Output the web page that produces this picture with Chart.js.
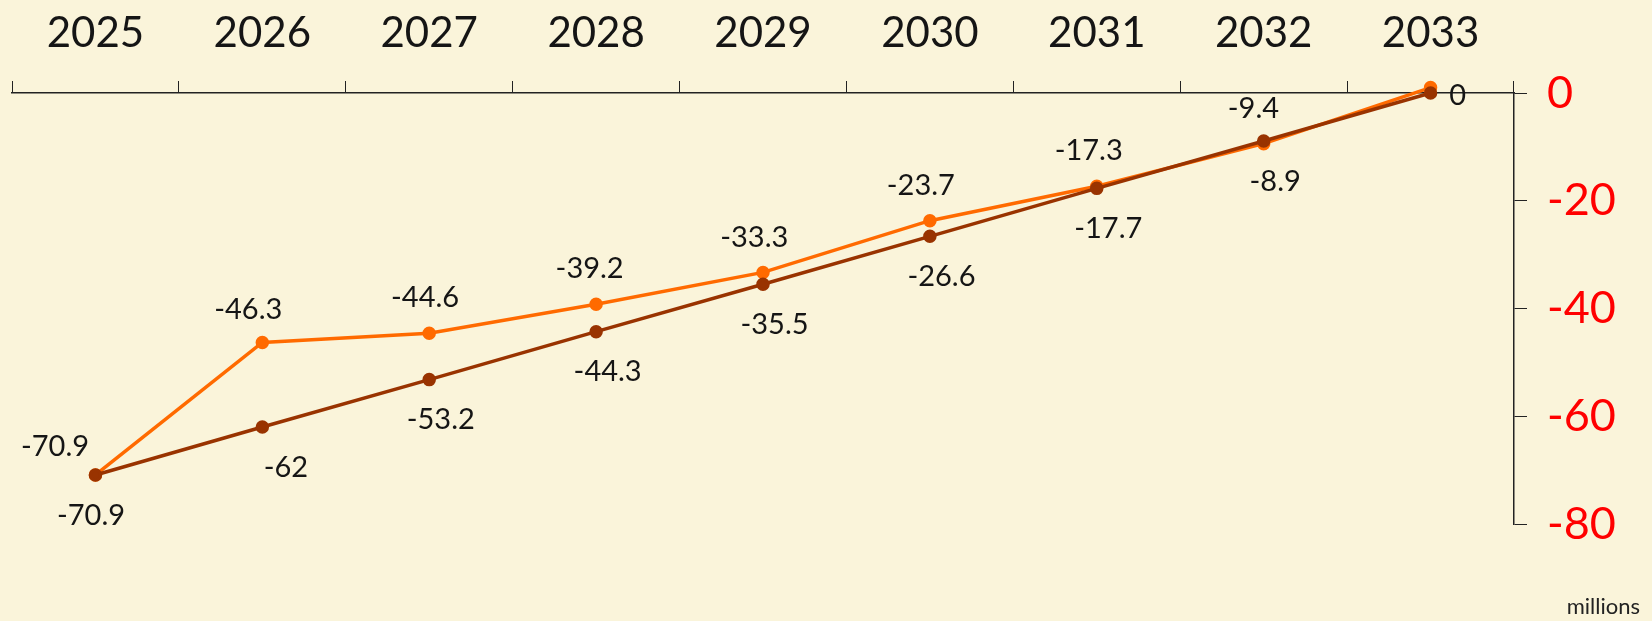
<!DOCTYPE html>
<html>
<head>
<meta charset="utf-8">
<script src="https://cdn.jsdelivr.net/npm/chart.js@4/dist/chart.umd.min.js"></script>
<style>
  html, body { margin: 0; padding: 0; background: #faf4da; }
  #wrap { position: relative; width: 1652px; height: 621px; }
  #note { position: absolute; right: 12px; bottom: 2px; font: 22px Lato, sans-serif; color: #222; }
</style>
</head>
<body>
<div id="wrap">
  <canvas id="chart" width="1652" height="621"></canvas>
  <div id="note">millions</div>
</div>
<script>
const years = ["2025", "2026", "2027", "2028", "2029", "2030", "2031", "2032", "2033"];
const orangeValues = [-70.9, -46.3, -44.6, -39.2, -33.3, -23.7, -17.3, -9.4, 1];
const brownValues = [-70.9, -62, -53.2, -44.3, -35.5, -26.6, -17.7, -8.9, 0];
const yTicks = [0, -20, -40, -60, -80];

const ctx = document.getElementById("chart").getContext("2d");

// draws the value next to each point, offset across the line
const pointLabels = {
    id: "pointLabels",
    afterDatasetsDraw(chart) {
        const c = chart.ctx;
        c.save();
        c.font = "29px Lato, sans-serif";
        c.fillStyle = "#151515";
        c.textAlign = "center";
        c.textBaseline = "middle";
        chart.data.datasets.forEach((ds, i) => {
            const pts = chart.getDatasetMeta(i).data;
            const side = i === 0 ? 1 : -1;
            const dist = i === 0 ? 36 : 42;
            pts.forEach((p, j) => {
                const last = j === pts.length - 1;
                if (last) {
                    if (i === 1) c.fillText(String(ds.data[j]), p.x + 27, p.y + 3);
                    return;
                }
                const a = pts[j - 1] || p;
                const b = pts[j + 1] || p;
                const dx = b.x - a.x, dy = b.y - a.y;
                const len = Math.hypot(dx, dy);
                const nx = dy / len, ny = -dx / len;
                let lx = p.x + side * nx * dist;
                const ly = p.y + side * ny * dist;
                if (j === 0 && i === 0) lx -= 18;
                if (j === 0 && i === 1) lx -= 16;
                if (j === 1 && i === 1) lx += 12;
                c.fillText(String(ds.data[j]), lx, ly);
            });
        });
        c.restore();
    }
};

new Chart(ctx, {
    type: "line",
    data: {
        labels: years,
        datasets: [
            {
                data: orangeValues,
                borderColor: "#ff6a00",
                backgroundColor: "#ff6a00",
                borderWidth: 3.5,
                pointRadius: 5,
                pointHoverRadius: 5,
                clip: false,
                order: 1,
            },
            {
                data: brownValues,
                borderColor: "#993300",
                backgroundColor: "#993300",
                borderWidth: 3.5,
                pointRadius: 5,
                pointHoverRadius: 5,
                clip: false,
                order: 0,
            }
        ]
    },
    options: {
        responsive: false,
        animation: false,
        layout: { padding: { left: 12, top: 0, right: 0, bottom: 97 } },
        plugins: {
            legend: { display: false },
            tooltip: { enabled: false },
        },
        scales: {
            x: {
                position: "top",
                offset: true,
                grid: { drawOnChartArea: false, offset: true, tickLength: 12, color: "#222" },
                border: { display: true, color: "#222", width: 1.5 },
                ticks: { color: "#151515", font: { size: 42, family: "Lato" }, padding: 22, maxRotation: 0 },
                afterFit(scale) { scale.height = 93; },
            },
            y: {
                position: "right",
                min: -80,
                max: 0,
                afterBuildTicks(scale) { scale.ticks = yTicks.map(v => ({ value: v })); },
                grid: { drawOnChartArea: false, tickLength: 13, color: "#222" },
                border: { display: true, color: "#222", width: 1.5 },
                ticks: { color: "#ff0000", font: { size: 45, family: "Lato" }, padding: 20 },
                afterFit(scale) { scale.width = 138; },
            }
        }
    },
    plugins: [pointLabels]
});
</script>
</body>
</html>
